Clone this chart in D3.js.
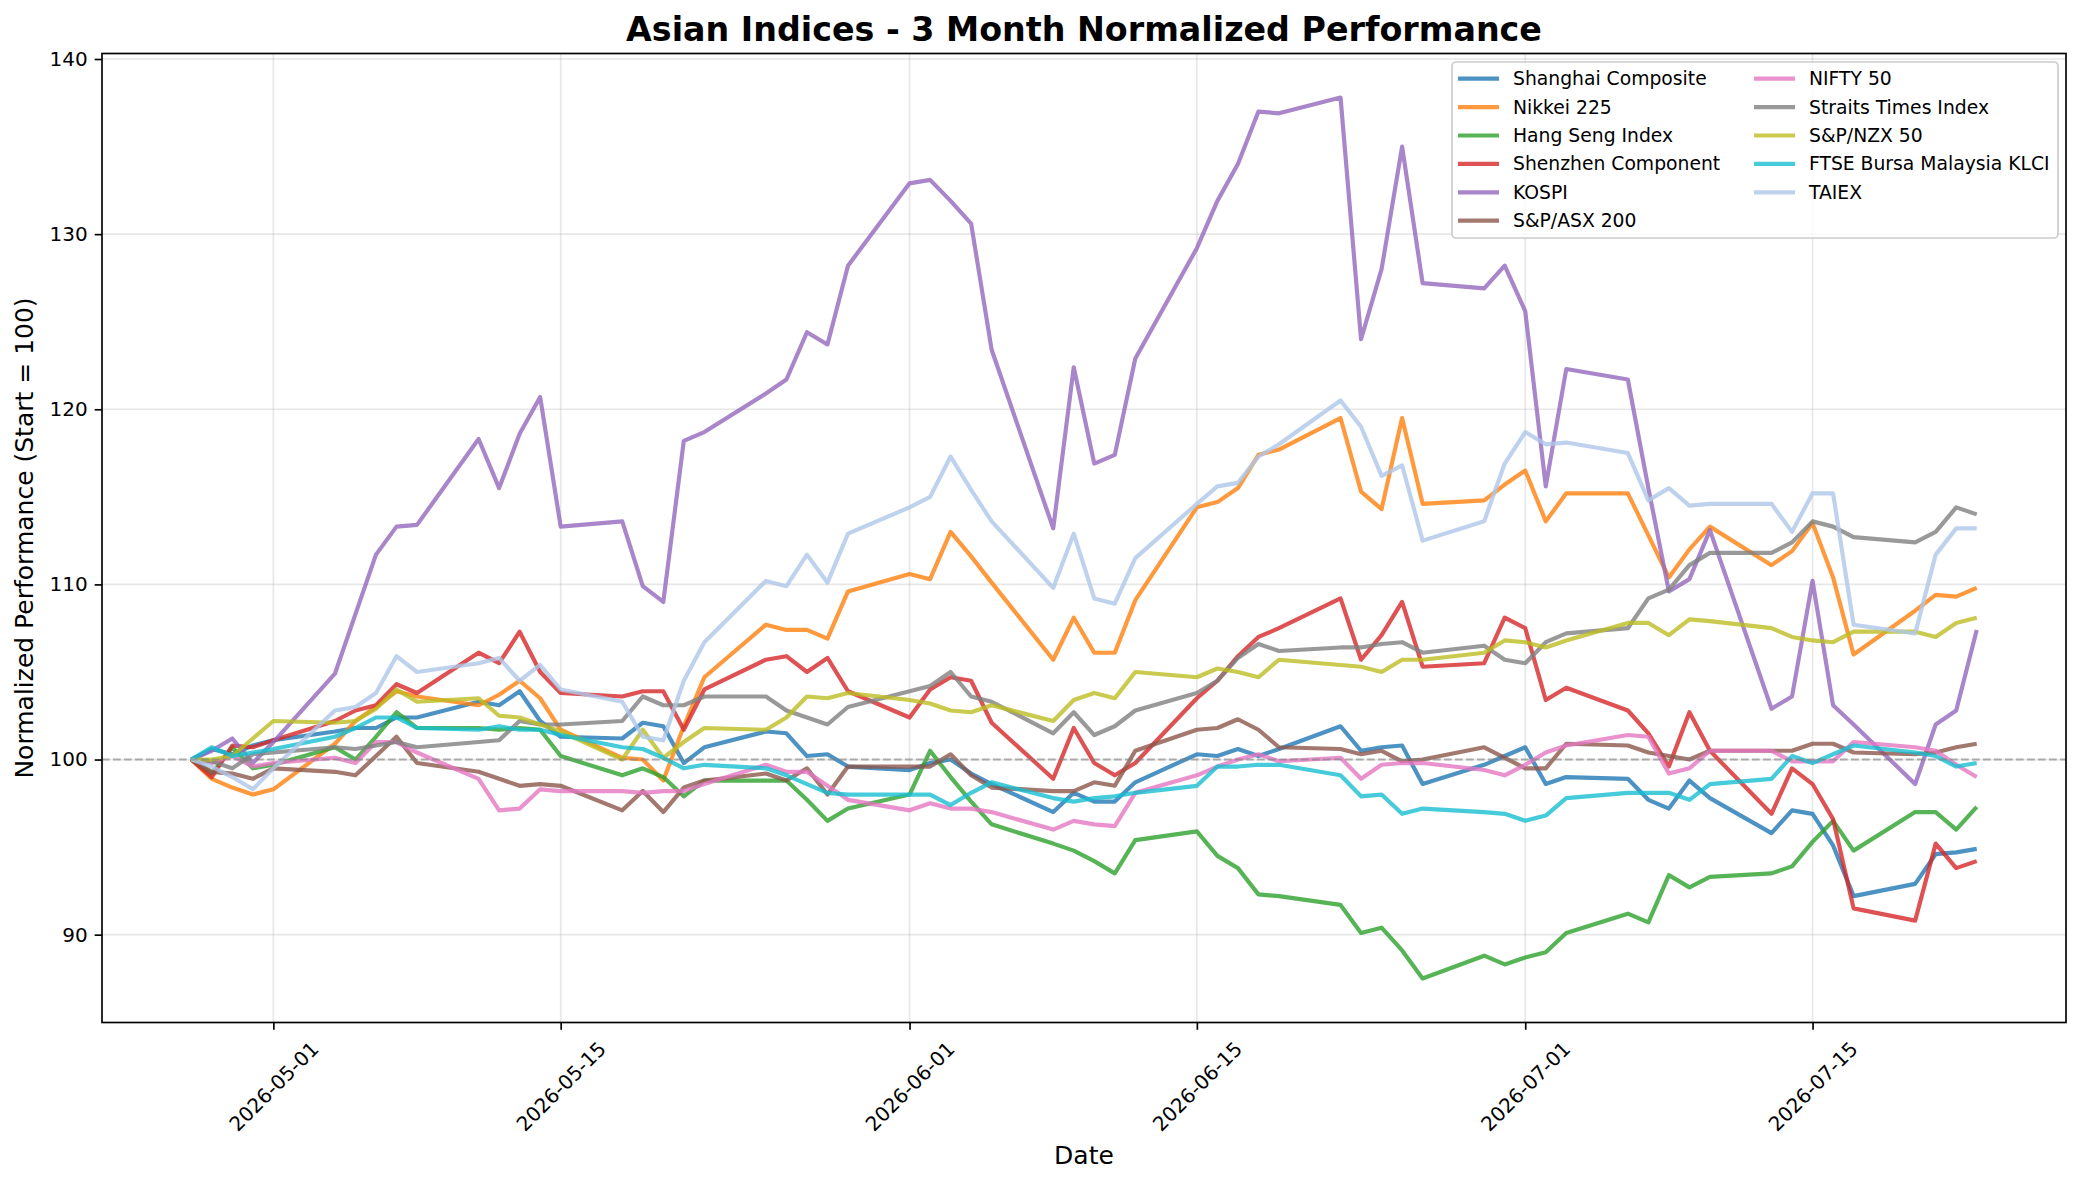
<!DOCTYPE html>
<html>
<head>
<meta charset="utf-8">
<script src="https://cdn.jsdelivr.net/npm/d3@7"></script>
<style>
  body { margin: 0; background: #fff; }
  svg { display: block; font-family: "DejaVu Sans", sans-serif; }
</style>
</head>
<body>
<div id="chart"></div>
<script>
// trading days shown in the chart
var dates = [
  "2026-04-27","2026-04-28","2026-04-29","2026-04-30","2026-05-01",
  "2026-05-04","2026-05-05","2026-05-06","2026-05-07","2026-05-08",
  "2026-05-11","2026-05-12","2026-05-13","2026-05-14","2026-05-15",
  "2026-05-18","2026-05-19","2026-05-20","2026-05-21","2026-05-22",
  "2026-05-25","2026-05-26","2026-05-27","2026-05-28","2026-05-29",
  "2026-06-01","2026-06-02","2026-06-03","2026-06-04","2026-06-05",
  "2026-06-08","2026-06-09","2026-06-10","2026-06-11","2026-06-12",
  "2026-06-15","2026-06-16","2026-06-17","2026-06-18","2026-06-19",
  "2026-06-22","2026-06-23","2026-06-24","2026-06-25","2026-06-26",
  "2026-06-29","2026-06-30","2026-07-01","2026-07-02","2026-07-03",
  "2026-07-06","2026-07-07","2026-07-08","2026-07-09","2026-07-10",
  "2026-07-13","2026-07-14","2026-07-15","2026-07-16","2026-07-17",
  "2026-07-20","2026-07-21","2026-07-22","2026-07-23"
];

var shanghai = [100, 100.6, 100.3, 100.8, 101.1, 101.6, 101.8, 101.8, 102.4, 102.4,
  103.3, 103.1, 103.9, 102.2, 101.3, 101.2, 102.1, 101.9, 99.8, 100.7,
  101.6, 101.5, 100.2, 100.3, 99.6, 99.4, 99.8, 100.0, 99.2, 98.6,
  97.0, 98.1, 97.6, 97.6, 98.7, 100.3, 100.2, 100.6, 100.2, 100.6,
  101.9, 100.5, 100.7, 100.8, 98.6, 99.7, 100.2, 100.7, 98.6, 99.0,
  98.9, 97.7, 97.2, 98.8, 97.8, 95.8, 97.1, 96.9, 95.1, 92.2,
  92.9, 94.6, 94.7, 94.9];

var nikkei = [100, 98.9, 98.4, 98.0, 98.3, 100.9, 102.2, 103.0, 103.9, 103.6,
  103.1, 103.7, 104.5, 103.5, 101.7, 100.1, 100.0, 98.8, 101.9, 104.7,
  107.7, 107.4, 107.4, 106.9, 109.6, 110.6, 110.3, 113.0, 111.6, 110.1,
  105.7, 108.1, 106.1, 106.1, 109.1, 114.4, 114.7, 115.5, 117.4, 117.7,
  119.5, 115.3, 114.3, 119.5, 114.6, 114.8, 115.7, 116.5, 113.6, 115.2,
  115.2, 112.8, 110.4, 112.0, 113.3, 111.1, 111.9, 113.5, 110.4, 106.0,
  108.5, 109.4, 109.3, 109.8];

var hangSeng = [100, 99.2, 100.7, 99.5, 99.7, 100.7, 100.0, 101.3, 102.7, 101.8,
  101.8, 101.7, 101.8, 101.7, 100.2, 99.1, 99.5, 99.0, 97.9, 98.8,
  98.8, 98.8, 97.7, 96.5, 97.2, 98.0, 100.5, 99.0, 97.6, 96.3,
  95.2, 94.8, 94.2, 93.5, 95.4, 95.9, 94.5, 93.8, 92.3, 92.2,
  91.7, 90.1, 90.4, 89.1, 87.5, 88.8, 88.3, 88.7, 89.0, 90.1,
  91.2, 90.7, 93.4, 92.7, 93.3, 93.5, 93.9, 95.3, 96.5, 94.8,
  97.0, 97.0, 96.0, 97.3];

var shenzhen = [100, 99.0, 100.8, 100.7, 101.1, 102.2, 102.8, 103.1, 104.3, 103.8,
  106.1, 105.5, 107.3, 105.0, 103.8, 103.6, 103.9, 103.9, 101.7, 104.0,
  105.7, 105.9, 105.0, 105.8, 103.9, 102.4, 104.0, 104.7, 104.5, 102.1,
  98.9, 101.8, 99.8, 99.1, 99.8, 103.5, 104.5, 105.9, 107.0, 107.5,
  109.2, 105.7, 107.1, 109.0, 105.3, 105.5, 108.1, 107.5, 103.4, 104.1,
  102.8, 101.5, 99.6, 102.7, 100.5, 96.9, 99.5, 98.6, 96.6, 91.5,
  90.8, 95.2, 93.8, 94.2];

var kospi = [100, 100.5, 101.2, 99.8, 101.0, 104.9, 108.3, 111.7, 113.3, 113.4,
  118.3, 115.5, 118.6, 120.7, 113.3, 113.6, 109.9, 109.0, 118.2, 118.7,
  120.9, 121.7, 124.4, 123.7, 128.2, 132.9, 133.1, 131.9, 130.6, 123.4,
  113.2, 122.4, 116.9, 117.4, 122.9, 129.2, 131.9, 134.0, 137.0, 136.9,
  137.8, 124.0, 128.0, 135.0, 127.2, 126.9, 128.2, 125.6, 115.6, 122.3,
  121.7, 115.5, 109.6, 110.3, 113.1, 102.9, 103.6, 110.2, 103.1, 102.0,
  98.6, 102.0, 102.8, 107.4];

var asx = [100, 99.3, 99.2, 98.9, 99.5, 99.3, 99.1, 100.2, 101.3, 99.8,
  99.3, 98.9, 98.5, 98.6, 98.5, 97.1, 98.2, 97.0, 98.4, 98.8,
  99.2, 98.8, 99.5, 98.0, 99.6, 99.6, 99.6, 100.3, 99.1, 98.4,
  98.2, 98.2, 98.7, 98.5, 100.5, 101.7, 101.8, 102.3, 101.7, 100.7,
  100.6, 100.3, 100.5, 99.9, 100.0, 100.7, 100.1, 99.5, 99.5, 100.9,
  100.8, 100.4, 100.2, 100.0, 100.5, 100.5, 100.5, 100.9, 100.9, 100.4,
  100.3, 100.4, 100.7, 100.9];

var nifty = [100, 99.8, 100.2, 99.6, 99.8, 100.1, 99.8, 101.0, 101.0, 100.4,
  98.9, 97.1, 97.2, 98.3, 98.2, 98.2, 98.1, 98.2, 98.2, 98.6,
  99.7, 99.3, 99.3, 98.5, 97.7, 97.1, 97.5, 97.2, 97.2, 97.0,
  96.0, 96.5, 96.3, 96.2, 98.1, 99.1, 99.6, 100.0, 100.3, 99.9,
  100.1, 98.9, 99.7, 99.8, 99.8, 99.4, 99.1, 99.7, 100.4, 100.8,
  101.4, 101.3, 99.2, 99.5, 100.5, 100.5, 99.9, 99.9, 99.9, 101.0,
  100.7, 100.5, 99.7, 99.0];

var straits = [100, 99.9, 99.5, 100.3, 100.4, 100.7, 100.6, 100.8, 101.0, 100.7,
  101.0, 101.1, 102.2, 102.0, 102.0, 102.2, 103.6, 103.1, 103.1, 103.6,
  103.6, 102.8, 102.4, 102.0, 103.0, 103.9, 104.2, 105.0, 103.6, 103.3,
  101.5, 102.7, 101.4, 101.9, 102.8, 103.8, 104.5, 105.8, 106.6, 106.2,
  106.4, 106.4, 106.6, 106.7, 106.1, 106.5, 105.7, 105.5, 106.7, 107.2,
  107.5, 109.2, 109.7, 111.1, 111.8, 111.8, 112.4, 113.6, 113.3, 112.7,
  112.4, 113.0, 114.4, 114.0];

var nzx = [100, 100.0, 100.2, 101.2, 102.2, 102.1, 102.2, 102.9, 104.0, 103.3,
  103.5, 102.5, 102.4, 102.0, 101.6, 100.0, 101.7, 100.1, 101.0, 101.8,
  101.7, 102.4, 103.6, 103.5, 103.8, 103.4, 103.2, 102.8, 102.7, 103.1,
  102.2, 103.4, 103.8, 103.5, 105.0, 104.7, 105.2, 105.0, 104.7, 105.7,
  105.4, 105.3, 105.0, 105.7, 105.7, 106.1, 106.8, 106.7, 106.4, 106.8,
  107.8, 107.8, 107.1, 108.0, 107.9, 107.5, 107.0, 106.8, 106.7, 107.3,
  107.3, 107.0, 107.8, 108.1];

var klci = [100, 100.7, 100.2, 100.4, 100.6, 101.3, 101.8, 102.4, 102.4, 101.8,
  101.7, 101.9, 101.7, 101.7, 101.4, 100.7, 100.6, 100.1, 99.5, 99.7,
  99.5, 99.1, 98.6, 98.1, 98.0, 98.0, 98.0, 97.4, 98.1, 98.7,
  97.8, 97.6, 97.8, 97.9, 98.1, 98.5, 99.6, 99.6, 99.7, 99.7,
  99.1, 97.9, 98.0, 96.9, 97.2, 97.0, 96.9, 96.5, 96.8, 97.8,
  98.1, 98.1, 98.1, 97.7, 98.6, 98.9, 100.2, 99.8, 100.3, 100.8,
  100.4, 100.2, 99.6, 99.8];

var taiex = [100, 99.6, 99.0, 98.3, 99.5, 102.8, 103.0, 103.8, 105.9, 105.0,
  105.5, 105.8, 104.5, 105.4, 104.0, 103.3, 101.3, 101.1, 104.5, 106.7,
  110.2, 109.9, 111.7, 110.1, 112.9, 114.4, 115.0, 117.3, 115.4, 113.6,
  109.8, 112.9, 109.2, 108.9, 111.5, 114.6, 115.6, 115.8, 117.3, 118.0,
  120.5, 119.0, 116.2, 116.8, 112.5, 113.6, 116.9, 118.7, 118.0, 118.1,
  117.5, 114.8, 115.5, 114.5, 114.6, 114.6, 113.0, 115.2, 115.2, 107.7,
  107.2, 111.7, 113.2, 113.2];

var seriesNames = ["Shanghai Composite", "Nikkei 225", "Hang Seng Index", "Shenzhen Component",
  "KOSPI", "S&P/ASX 200", "NIFTY 50", "Straits Times Index", "S&P/NZX 50",
  "FTSE Bursa Malaysia KLCI", "TAIEX"];
var seriesValues = [shanghai, nikkei, hangSeng, shenzhen, kospi, asx, nifty, straits, nzx, klci, taiex];
var seriesColors = ["#1f77b4", "#ff7f0e", "#2ca02c", "#d62728", "#9467bd", "#8c564b",
  "#e377c2", "#7f7f7f", "#bcbd22", "#17becf", "#aec7e8"];

var xTickLabels = ["2026-05-01", "2026-05-15", "2026-06-01", "2026-06-15", "2026-07-01", "2026-07-15"];
var yTickValues = [90, 100, 110, 120, 130, 140];

var W = 2082, H = 1184;
var plot = {left: 102, right: 2066, top: 53.5, bottom: 1022.5};

var parse = d3.utcParse("%Y-%m-%d");
var xDates = dates.map(parse);

var series = seriesNames.map(function(name, i) {
    return {
        name: name,
        color: seriesColors[i],
        points: seriesValues[i].map(function(v, j) { return {date: xDates[j], value: v}; })
    };
});

// matplotlib-like 5% padding on both axes
var t0 = xDates[0].getTime(), t1 = xDates[xDates.length - 1].getTime();
var tPad = (t1 - t0) * 0.05;
var x = d3.scaleUtc()
    .domain([new Date(t0 - tPad), new Date(t1 + tPad)])
    .range([plot.left, plot.right]);

var allVals = [].concat.apply([], seriesValues);
var vMin = d3.min(allVals), vMax = d3.max(allVals);
var vPad = (vMax - vMin) * 0.05;
var y = d3.scaleLinear()
    .domain([vMin - vPad, vMax + vPad])
    .range([plot.bottom, plot.top]);

var svg = d3.select("#chart").append("svg")
    .attr("width", W)
    .attr("height", H);

svg.append("rect").attr("width", W).attr("height", H).attr("fill", "#fff");

var xTicks = xTickLabels.map(parse);

// grid
var grid = svg.append("g").attr("stroke", "#b0b0b0").attr("stroke-opacity", 0.3).attr("stroke-width", 1.67);
grid.selectAll("line.gx").data(xTicks).enter().append("line")
    .attr("x1", function(d) { return x(d); }).attr("x2", function(d) { return x(d); })
    .attr("y1", plot.top).attr("y2", plot.bottom);
grid.selectAll("line.gy").data(yTickValues).enter().append("line")
    .attr("x1", plot.left).attr("x2", plot.right)
    .attr("y1", function(d) { return y(d); }).attr("y2", function(d) { return y(d); });

// lines
var line = d3.line()
    .x(function(d) { return x(d.date); })
    .y(function(d) { return y(d.value); });

svg.append("defs").append("clipPath").attr("id", "clip")
    .append("rect")
    .attr("x", plot.left).attr("y", plot.top)
    .attr("width", plot.right - plot.left).attr("height", plot.bottom - plot.top);

var lines = svg.append("g").attr("clip-path", "url(#clip)");
lines.selectAll("path").data(series).enter().append("path")
    .attr("d", function(d) { return line(d.points); })
    .attr("fill", "none")
    .attr("stroke", function(d) { return d.color; })
    .attr("stroke-opacity", 0.8)
    .attr("stroke-width", 4.17)
    .attr("stroke-linejoin", "round");

// reference line at 100
svg.append("line")
    .attr("x1", plot.left).attr("x2", plot.right)
    .attr("y1", y(100)).attr("y2", y(100))
    .attr("stroke", "#808080")
    .attr("stroke-opacity", 0.6)
    .attr("stroke-width", 2.08)
    .attr("stroke-dasharray", "7.7,3.3");

// axes
var xAxis = d3.axisBottom(x)
    .tickValues(xTicks)
    .tickSize(7.3)
    .tickPadding(7)
    .tickFormat(d3.utcFormat("%Y-%m-%d"));

var yAxis = d3.axisLeft(y)
    .tickValues(yTickValues)
    .tickSize(7.3)
    .tickPadding(7)
    .tickFormat(d3.format("d"));

var gx = svg.append("g")
    .attr("transform", "translate(0," + plot.bottom + ")")
    .call(xAxis);
gx.select(".domain").remove();
gx.selectAll(".tick line").attr("stroke", "#000").attr("stroke-width", 1.67);
gx.selectAll(".tick text")
    .attr("font-size", 20)
    .attr("font-family", "DejaVu Sans")
    .attr("fill", "#000")
    .attr("y", 0).attr("dy", null)
    .attr("text-anchor", "middle")
    .attr("dominant-baseline", "central")
    .attr("transform", "translate(0,64) rotate(-45)");

var gy = svg.append("g")
    .attr("transform", "translate(" + plot.left + ",0)")
    .call(yAxis);
gy.select(".domain").remove();
gy.selectAll(".tick line").attr("stroke", "#000").attr("stroke-width", 1.67);
gy.selectAll(".tick text")
    .attr("font-size", 20)
    .attr("font-family", "DejaVu Sans")
    .attr("fill", "#000");

// frame
svg.append("rect")
    .attr("x", plot.left).attr("y", plot.top)
    .attr("width", plot.right - plot.left).attr("height", plot.bottom - plot.top)
    .attr("fill", "none")
    .attr("stroke", "#000")
    .attr("stroke-width", 1.67);

// titles
svg.append("text")
    .attr("x", (plot.left + plot.right) / 2).attr("y", 41)
    .attr("text-anchor", "middle")
    .attr("font-size", 33.3)
    .attr("font-weight", "bold")
    .text("Asian Indices - 3 Month Normalized Performance");

svg.append("text")
    .attr("x", (plot.left + plot.right) / 2).attr("y", 1164)
    .attr("text-anchor", "middle")
    .attr("font-size", 25)
    .text("Date");

svg.append("text")
    .attr("transform", "translate(24," + ((plot.top + plot.bottom) / 2) + ") rotate(-90)")
    .attr("text-anchor", "middle")
    .attr("dominant-baseline", "central")
    .attr("font-size", 25)
    .text("Normalized Performance (Start = 100)");

// legend, two columns
var legend = svg.append("g");
legend.append("rect")
    .attr("x", 1452).attr("y", 62)
    .attr("width", 606).attr("height", 176)
    .attr("rx", 4)
    .attr("fill", "#fff").attr("fill-opacity", 0.8)
    .attr("stroke", "#cccccc").attr("stroke-width", 1.67);

var rows = 6;
var items = legend.selectAll("g.item").data(series).enter().append("g")
    .attr("transform", function(d, i) {
        var col = Math.floor(i / rows), row = i % rows;
        return "translate(" + (col === 0 ? 1458 : 1754) + "," + (78.7 + row * 28.4) + ")";
    });
items.append("line")
    .attr("x1", 0).attr("x2", 41)
    .attr("stroke", function(d) { return d.color; })
    .attr("stroke-opacity", 0.8)
    .attr("stroke-width", 4.17);
items.append("text")
    .attr("x", 55)
    .attr("dominant-baseline", "central")
    .attr("font-size", 18.75)
    .text(function(d) { return d.name; });
</script>
</body>
</html>
